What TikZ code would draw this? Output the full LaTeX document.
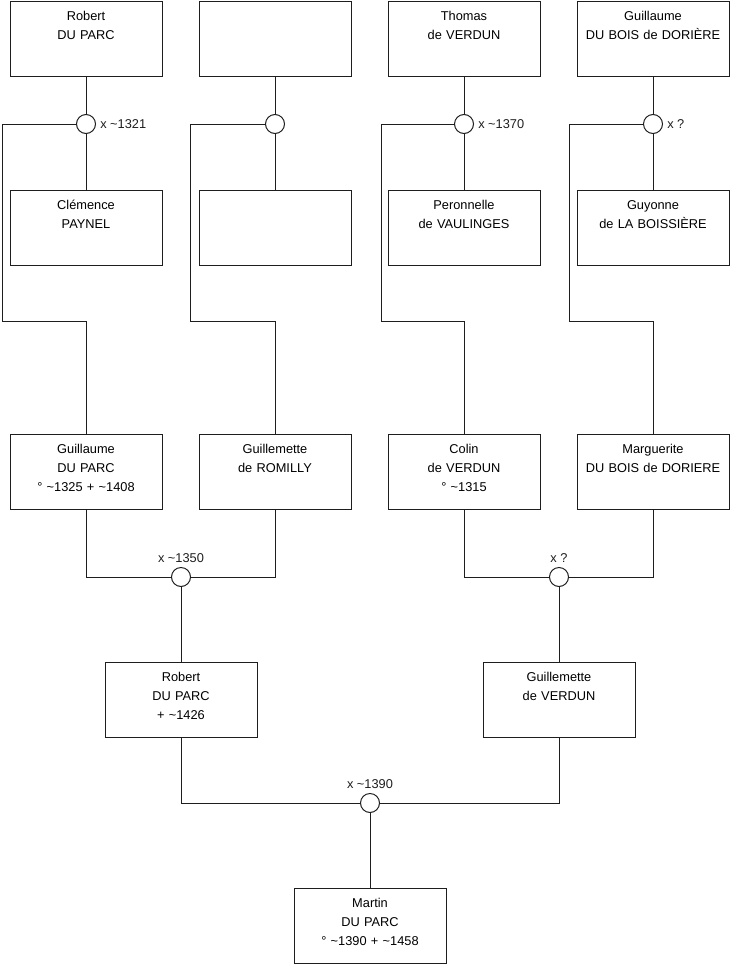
\documentclass[tikz,border=0pt]{standalone}
\usepackage{fontspec}
\setmainfont{Liberation Sans}
\usepackage{xcolor}
\usepackage{tikz}
\usetikzlibrary{positioning, calc}
\definecolor{mydark}{RGB}{30,30,30}
\tikzset{
  person/.style={rectangle, draw=mydark, fill=white,
    minimum width=114pt, text width=112pt, align=center,
    inner xsep=1pt, inner ysep=0pt, text height=14.5pt, text depth=41.75pt,
    anchor=north, line width=0.75pt},
  wed/.style={circle, draw=mydark, fill=white,
    minimum size=14.25pt, inner sep=0pt, line width=0.75pt},
  wedlbl/.style={font=\fontsize{9.6}{11}\selectfont, color=mydark, inner sep=3pt},
  line/.style={line width=0.75pt, color=mydark}
}

\begin{document}
\begin{tikzpicture}[x=0.75pt, y=-0.75pt,
    every node/.style={font=\fontsize{9.6}{14.25}\selectfont}]
  \useasboundingbox (0,0) rectangle (740,975);
  % Great-grandparents
  \node[person] (rparc) at (86,1) {Robert\\DU PARC};
  \node[person] (anon1) at (275,1) {};
  \node[person] (tverdun) at (464,1) {Thomas\\de VERDUN};
  \node[person] (gbois) at (653,1) {Guillaume\\DU BOIS de DORIÈRE};
  \node[person] (cpaynel) at (86,190) {Clémence\\PAYNEL};
  \node[person] (anon2) at (275,190) {};
  \node[person] (pvaul) at (464,190) {Peronnelle\\de VAULINGES};
  \node[person] (gboiss) at (653,190) {Guyonne\\de LA BOISSIÈRE};
  % Marriages, first generation
  \node[wed, label={[wedlbl]right:x \textasciitilde1321}] (mpay) at (86,124) {};
  \node[wed] (manon) at (275,124) {};
  \node[wed, label={[wedlbl]right:x \textasciitilde1370}] (mvaul) at (464,124) {};
  \node[wed, label={[wedlbl]right:x ?}] (mboiss) at (653,124) {};
  % Grandparents
  \node[person] (gparc) at (86,434) {Guillaume\\DU PARC\\° \textasciitilde1325 + \textasciitilde1408};
  \node[person] (gromil) at (275,434) {Guillemette\\de ROMILLY};
  \node[person] (cverdun) at (464,434) {Colin\\de VERDUN\\° \textasciitilde1315};
  \node[person] (mbois) at (653,434) {Marguerite\\DU BOIS de DORIERE};
  \node[wed, label={[wedlbl]above:x \textasciitilde1350}] (mromil) at (181,577) {};
  \node[wed, label={[wedlbl]above:x ?}] (mbois2) at (559,577) {};
  % Parents and son
  \node[person] (rparc2) at (181,662) {Robert\\DU PARC\\+ \textasciitilde1426};
  \node[person] (gverdun) at (559,662) {Guillemette\\de VERDUN};
  \node[wed, label={[wedlbl]above:x \textasciitilde1390}] (mfinal) at (370,803) {};
  \node[person] (mparc) at (370,888) {Martin\\DU PARC\\° \textasciitilde1390 + \textasciitilde1458};
  % Bends of the side lines
  \coordinate (o1) at (2,321);
  \coordinate (o2) at (190,321);
  \coordinate (o3) at (381,321);
  \coordinate (o4) at (569,321);
  % Connectors
  \draw[line] (rparc) -- (mpay);
  \draw[line] (mpay) -- (cpaynel);
  \draw[line] (mpay.west) -| (o1) -| (gparc.north);
  \draw[line] (anon1) -- (manon);
  \draw[line] (manon) -- (anon2);
  \draw[line] (manon.west) -| (o2) -| (gromil.north);
  \draw[line] (tverdun) -- (mvaul);
  \draw[line] (mvaul) -- (pvaul);
  \draw[line] (mvaul.west) -| (o3) -| (cverdun.north);
  \draw[line] (gbois) -- (mboiss);
  \draw[line] (mboiss) -- (gboiss);
  \draw[line] (mboiss.west) -| (o4) -| (mbois.north);
  \draw[line] (gparc.south) |- (mromil.west);
  \draw[line] (gromil.south) |- (mromil.east);
  \draw[line] (mromil) -- (rparc2);
  \draw[line] (cverdun.south) |- (mbois2.west);
  \draw[line] (mbois.south) |- (mbois2.east);
  \draw[line] (mbois2) -- (gverdun);
  \draw[line] (rparc2.south) |- (mfinal.west);
  \draw[line] (gverdun.south) |- (mfinal.east);
  \draw[line] (mfinal) -- (mparc);
\end{tikzpicture}
\end{document}
